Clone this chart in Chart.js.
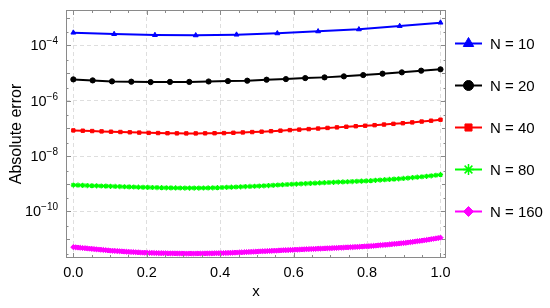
<!DOCTYPE html>
<html lang="en">
<head>
<meta charset="UTF-8">
<title>Absolute error vs x</title>
<script src="https://cdn.jsdelivr.net/npm/chart.js"></script>
<style>
  body { margin: 0; background: #fff; }
</style>
</head>
<body>
<canvas id="errChart" width="550" height="308"></canvas>
<script>
const errN10 = [2.88e-4, 2.56e-4, 2.36e-4, 2.30e-4, 2.44e-4, 2.72e-4, 3.21e-4, 3.79e-4, 4.99e-4, 6.62e-4];

const errN20 = [5.90e-6, 5.43e-6, 5.00e-6, 4.88e-6, 4.72e-6, 4.80e-6, 4.80e-6, 4.96e-6, 5.13e-6, 5.30e-6,
  5.75e-6, 6.05e-6, 6.58e-6, 6.98e-6, 7.59e-6, 8.46e-6, 9.49e-6, 1.06e-5, 1.22e-5, 1.36e-5];

const errN40 = [8.47e-8, 8.25e-8, 8.03e-8, 7.81e-8, 7.60e-8, 7.42e-8, 7.24e-8, 7.06e-8, 6.90e-8, 6.80e-8,
  6.70e-8, 6.63e-8, 6.60e-8, 6.60e-8, 6.64e-8, 6.70e-8, 6.77e-8, 6.95e-8, 7.15e-8, 7.38e-8,
  7.62e-8, 7.95e-8, 8.30e-8, 8.68e-8, 9.05e-8, 9.45e-8, 9.90e-8, 1.04e-7, 1.09e-7, 1.15e-7,
  1.20e-7, 1.25e-7, 1.31e-7, 1.38e-7, 1.46e-7, 1.54e-7, 1.65e-7, 1.77e-7, 1.90e-7, 2.06e-7];

const errN80 = [8.97e-10, 8.86e-10, 8.75e-10, 8.64e-10, 8.54e-10, 8.43e-10, 8.32e-10, 8.22e-10, 8.11e-10, 8.01e-10,
  7.91e-10, 7.81e-10, 7.72e-10, 7.63e-10, 7.54e-10, 7.46e-10, 7.40e-10, 7.33e-10, 7.27e-10, 7.21e-10,
  7.15e-10, 7.10e-10, 7.06e-10, 7.02e-10, 7.00e-10, 6.99e-10, 6.99e-10, 7.00e-10, 7.03e-10, 7.08e-10,
  7.15e-10, 7.23e-10, 7.32e-10, 7.42e-10, 7.53e-10, 7.65e-10, 7.78e-10, 7.91e-10, 8.04e-10, 8.15e-10,
  8.28e-10, 8.45e-10, 8.63e-10, 8.82e-10, 9.02e-10, 9.21e-10, 9.40e-10, 9.60e-10, 9.78e-10, 9.96e-10,
  1.015e-9, 1.034e-9, 1.053e-9, 1.072e-9, 1.091e-9, 1.110e-9, 1.130e-9, 1.148e-9, 1.167e-9, 1.185e-9,
  1.205e-9, 1.225e-9, 1.245e-9, 1.265e-9, 1.295e-9, 1.330e-9, 1.365e-9, 1.400e-9, 1.435e-9, 1.470e-9,
  1.510e-9, 1.555e-9, 1.610e-9, 1.670e-9, 1.730e-9, 1.795e-9, 1.865e-9, 1.940e-9, 2.030e-9, 2.130e-9];

const errN160 = [5.14e-12, 5.05e-12, 4.96e-12, 4.87e-12, 4.78e-12, 4.70e-12, 4.62e-12, 4.54e-12,
  4.45e-12, 4.37e-12, 4.29e-12, 4.21e-12, 4.14e-12, 4.06e-12, 3.99e-12, 3.92e-12,
  3.85e-12, 3.80e-12, 3.75e-12, 3.70e-12, 3.65e-12, 3.60e-12, 3.56e-12, 3.51e-12,
  3.47e-12, 3.43e-12, 3.40e-12, 3.36e-12, 3.33e-12, 3.29e-12, 3.26e-12, 3.23e-12,
  3.20e-12, 3.18e-12, 3.17e-12, 3.15e-12, 3.14e-12, 3.12e-12, 3.11e-12, 3.09e-12,
  3.08e-12, 3.07e-12, 3.06e-12, 3.06e-12, 3.05e-12, 3.04e-12, 3.04e-12, 3.03e-12,
  3.02e-12, 3.02e-12, 3.02e-12, 3.02e-12, 3.02e-12, 3.02e-12, 3.03e-12, 3.03e-12,
  3.03e-12, 3.04e-12, 3.05e-12, 3.06e-12, 3.07e-12, 3.08e-12, 3.09e-12, 3.10e-12,
  3.11e-12, 3.13e-12, 3.16e-12, 3.18e-12, 3.21e-12, 3.23e-12, 3.25e-12, 3.28e-12,
  3.30e-12, 3.34e-12, 3.37e-12, 3.40e-12, 3.44e-12, 3.47e-12, 3.50e-12, 3.54e-12,
  3.57e-12, 3.60e-12, 3.64e-12, 3.67e-12, 3.71e-12, 3.74e-12, 3.78e-12, 3.81e-12,
  3.85e-12, 3.89e-12, 3.92e-12, 3.96e-12, 3.99e-12, 4.03e-12, 4.07e-12, 4.10e-12,
  4.14e-12, 4.18e-12, 4.21e-12, 4.25e-12, 4.29e-12, 4.32e-12, 4.36e-12, 4.39e-12,
  4.43e-12, 4.47e-12, 4.51e-12, 4.54e-12, 4.58e-12, 4.62e-12, 4.66e-12, 4.69e-12,
  4.73e-12, 4.78e-12, 4.82e-12, 4.87e-12, 4.91e-12, 4.96e-12, 5.01e-12, 5.05e-12,
  5.10e-12, 5.15e-12, 5.21e-12, 5.26e-12, 5.32e-12, 5.37e-12, 5.43e-12, 5.48e-12,
  5.54e-12, 5.63e-12, 5.73e-12, 5.83e-12, 5.93e-12, 6.03e-12, 6.13e-12, 6.22e-12,
  6.32e-12, 6.44e-12, 6.57e-12, 6.70e-12, 6.83e-12, 6.96e-12, 7.09e-12, 7.22e-12,
  7.35e-12, 7.55e-12, 7.76e-12, 7.98e-12, 8.19e-12, 8.40e-12, 8.62e-12, 8.84e-12,
  9.06e-12, 9.35e-12, 9.65e-12, 9.95e-12, 1.03e-11, 1.06e-11, 1.095e-11, 1.13e-11];

const seriesLabels = ['N = 10', 'N = 20', 'N = 40', 'N = 80', 'N = 160'];
const xTickValues = [0, 0.2, 0.4, 0.6, 0.8, 1.0];
const yTickExponents = [-10, -8, -6, -4];

const FONT = "'Liberation Sans', Arial, sans-serif";
const FRAME = '#8a8a8a';
const GRID = '#dedede';

function toPoints(values) {
    return values.map((v, i) => ({ x: i / (values.length - 1), y: v }));
}

function makeSet(label, values, color, style, radius, legendRadius) {
    return {
        label: label,
        data: toPoints(values),
        borderColor: color,
        backgroundColor: color,
        pointBackgroundColor: color,
        pointBorderColor: color,
        borderWidth: 2,
        pointStyle: style,
        pointRadius: radius,
        pointBorderWidth: style === 'star' ? 1.2 : 1,
        pointHoverRadius: radius,
        legendRadius: legendRadius,
        tension: 0
    };
}

// frame, inward ticks, superscript tick labels and the side legend
const decorPlugin = {
    id: 'decor',
    afterDraw(chart) {
        const ctx = chart.ctx;
        const a = chart.chartArea;
        const xs = chart.scales.x;
        const ys = chart.scales.y;
        ctx.save();
        ctx.strokeStyle = FRAME;
        ctx.lineWidth = 1;
        ctx.strokeRect(a.left + 0.5, a.top + 0.5, a.right - a.left - 1, a.bottom - a.top - 1);

        ctx.beginPath();
        for (let k = 0; k <= 20; k++) {
            const px = Math.round(xs.getPixelForValue(k * 0.05)) + 0.5;
            const len = k % 4 === 0 ? 5 : 3;
            ctx.moveTo(px, a.bottom); ctx.lineTo(px, a.bottom - len);
            ctx.moveTo(px, a.top); ctx.lineTo(px, a.top + len);
        }
        for (let e = -12; e <= -3; e++) {
            [1, 3].forEach(m => {
                const v = m * Math.pow(10, e);
                if (v < ys.min || v > ys.max) return;
                const py = Math.round(ys.getPixelForValue(v)) + 0.5;
                const len = m === 1 ? (e % 2 === 0 ? 5 : 4) : 2.5;
                ctx.moveTo(a.left, py); ctx.lineTo(a.left + len, py);
                ctx.moveTo(a.right, py); ctx.lineTo(a.right - len, py);
            });
        }
        ctx.stroke();

        // y tick labels as 10 with a superscript exponent
        ctx.fillStyle = '#000';
        ctx.textBaseline = 'alphabetic';
        ctx.textAlign = 'left';
        yTickExponents.forEach(e => {
            const py = ys.getPixelForValue(Math.pow(10, e));
            const exp = '\u2212' + Math.abs(e);
            ctx.font = '10px ' + FONT;
            const ew = ctx.measureText(exp).width;
            ctx.font = '14.5px ' + FONT;
            const bw = ctx.measureText('10').width;
            const right = a.left - 8;
            ctx.fillText('10', right - ew - bw, py + 5);
            ctx.font = '10px ' + FONT;
            ctx.fillText(exp, right - ew, py - 1);
        });

        // legend
        const lx0 = 455, lx1 = 482, ly0 = 43.5, dy = 42;
        chart.data.datasets.forEach((ds, i) => {
            const y = ly0 + i * dy;
            ctx.strokeStyle = ds.borderColor;
            ctx.lineWidth = 2;
            ctx.beginPath();
            ctx.moveTo(lx0, y); ctx.lineTo(lx1, y);
            ctx.stroke();
            ctx.fillStyle = ds.pointBackgroundColor;
            ctx.strokeStyle = ds.pointBorderColor;
            ctx.lineWidth = ds.pointStyle === 'star' ? 1.5 : 1;
            Chart.helpers.drawPoint(ctx, {
                pointStyle: ds.pointStyle,
                radius: ds.legendRadius,
                rotation: 0,
                borderWidth: 1
            }, (lx0 + lx1) / 2, y);
            ctx.fillStyle = '#000';
            ctx.font = '15px ' + FONT;
            ctx.textBaseline = 'middle';
            ctx.fillText(ds.label, 490, y + 1);
            ctx.textBaseline = 'alphabetic';
        });
        ctx.restore();
    }
};

const ctx = document.getElementById('errChart').getContext('2d');
new Chart(ctx, {
    type: 'line',
    data: {
        datasets: [
            makeSet(seriesLabels[0], errN10, '#0000ff', 'triangle', 2.8, 6),
            makeSet(seriesLabels[1], errN20, '#000000', 'circle', 2.6, 5),
            makeSet(seriesLabels[2], errN40, '#ff0000', 'rect', 2.4, 5),
            makeSet(seriesLabels[3], errN80, '#00ff00', 'star', 2.6, 5.5),
            makeSet(seriesLabels[4], errN160, '#ff00ff', 'rectRot', 2.6, 5)
        ]
    },
    options: {
        responsive: false,
        animation: false,
        devicePixelRatio: 1,
        layout: { padding: { top: 10, right: 104, left: 0, bottom: 0 } },
        plugins: {
            legend: { display: false },
            tooltip: { enabled: false }
        },
        scales: {
            x: {
                type: 'linear',
                min: -0.02,
                max: 1.015,
                afterBuildTicks: s => { s.ticks = xTickValues.map(v => ({ value: v })); },
                afterFit: s => { s.height = 50; },
                ticks: {
                    callback: v => v.toFixed(1),
                    color: '#000',
                    font: { family: FONT, size: 14.5 },
                    padding: 6,
                    maxRotation: 0
                },
                grid: { color: GRID, drawTicks: false },
                border: { display: false, dash: [4, 3] },
                title: {
                    display: true,
                    text: 'x',
                    color: '#000',
                    font: { family: FONT, size: 15 },
                    padding: { top: 0, bottom: 7 }
                }
            },
            y: {
                type: 'logarithmic',
                min: 2.08e-12,
                max: 1.897e-3,
                afterBuildTicks: s => { s.ticks = yTickExponents.map(e => ({ value: Math.pow(10, e) })); },
                afterFit: s => { s.width = 66; },
                ticks: { display: false },
                grid: { color: GRID, drawTicks: false },
                border: { display: false, dash: [4, 3] },
                title: {
                    display: true,
                    text: 'Absolute error',
                    color: '#000',
                    font: { family: FONT, size: 16 },
                    padding: { top: 7, bottom: 0 }
                }
            }
        }
    },
    plugins: [decorPlugin]
});
</script>
</body>
</html>
